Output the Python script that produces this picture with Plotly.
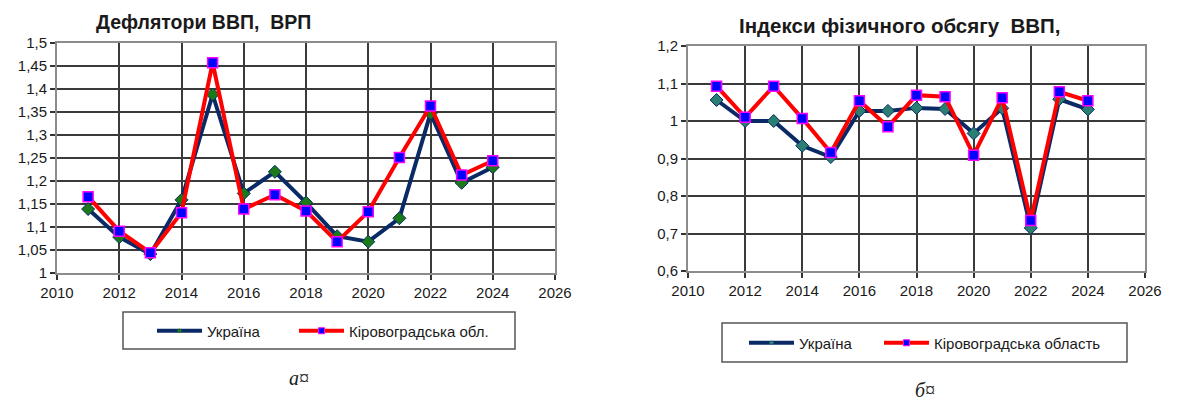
import plotly.graph_objects as go

years = [2011, 2012, 2013, 2014, 2015, 2016, 2017, 2018, 2019, 2020, 2021, 2022, 2023, 2024]

defl_ukraine = [1.139, 1.078, 1.041, 1.159, 1.388, 1.173, 1.220, 1.153, 1.080, 1.068, 1.119, 1.347, 1.196, 1.230]
defl_kirov = [1.166, 1.091, 1.044, 1.131, 1.457, 1.139, 1.170, 1.135, 1.068, 1.133, 1.251, 1.363, 1.213, 1.244]

phys_ukraine = [1.056, 1.000, 1.000, 0.934, 0.904, 1.027, 1.027, 1.035, 1.032, 0.967, 1.034, 0.715, 1.058, 1.031]
phys_kirov = [1.093, 1.010, 1.093, 1.007, 0.916, 1.054, 0.985, 1.069, 1.065, 0.909, 1.062, 0.735, 1.078, 1.054]

x_ticks = [2010, 2012, 2014, 2016, 2018, 2020, 2022, 2024, 2026]
x_ticktext = ["2010", "2012", "2014", "2016", "2018", "2020", "2022", "2024", "2026"]
y1_ticks = [1.0, 1.05, 1.1, 1.15, 1.2, 1.25, 1.3, 1.35, 1.4, 1.45, 1.5]
y1_ticktext = ["1", "1,05", "1,1", "1,15", "1,2", "1,25", "1,3", "1,35", "1,4", "1,45", "1,5"]
y2_ticks = [0.6, 0.7, 0.8, 0.9, 1.0, 1.1, 1.2]
y2_ticktext = ["0,6", "0,7", "0,8", "0,9", "1", "1,1", "1,2"]

title_left = "Дефлятори ВВП,  ВРП"
title_right = "Індекси фізичного обсягу  ВВП,"
name_ukr = "Україна"
name_kir_left = "Кіровоградська обл."
name_kir_right = "Кіровоградська область"

NAVY = "#0a2a66"
RED = "#ff0000"
KIR_FILL = "#0000ff"
KIR_EDGE = "#ff00ff"

# page body has an 8px default margin; figure is sized/placed to compensate
OFF = 8
W, H = 1182 - OFF, 403 - OFF


def px(x):
    return (x - OFF) / W


def py(y):
    return 1 - (y - OFF) / H


fig = go.Figure()


def add_pair(xa, ya, u, k, kname, leg_u, leg_k, ukr_marker):
    fig.add_trace(go.Scatter(
        x=years, y=u, name=name_ukr, xaxis=xa, yaxis=ya, showlegend=False,
        mode="lines+markers",
        line=dict(color=NAVY, width=4),
        marker=dict(symbol="diamond", size=10, color=ukr_marker, line=dict(color=NAVY, width=1)),
    ))
    fig.add_trace(go.Scatter(
        x=years, y=k, name=kname, xaxis=xa, yaxis=ya, showlegend=False,
        mode="lines+markers",
        line=dict(color=RED, width=4),
        marker=dict(symbol="square", size=10, color=KIR_FILL, line=dict(color=KIR_EDGE, width=1.5)),
    ))
    # legend entries with the small markers shown in the reference legend
    fig.add_trace(go.Scatter(
        x=[None], y=[None], name=name_ukr, xaxis=xa, yaxis=ya, legend=leg_u,
        mode="lines+markers", line=dict(color=NAVY, width=4),
        marker=dict(symbol="diamond", size=4, color=ukr_marker, line=dict(width=0)),
    ))
    fig.add_trace(go.Scatter(
        x=[None], y=[None], name=kname, xaxis=xa, yaxis=ya, legend=leg_k,
        mode="lines+markers", line=dict(color=RED, width=4),
        marker=dict(symbol="square", size=6, color=KIR_FILL, line=dict(color=KIR_EDGE, width=1)),
    ))


add_pair("x", "y", defl_ukraine, defl_kirov, name_kir_left, "legend", "legend2", "#1a7a1a")
add_pair("x2", "y2", phys_ukraine, phys_kirov, name_kir_right, "legend3", "legend4", "#2a7f72")

font_family = "Liberation Sans, Arial, sans-serif"
axis_common = dict(
    showgrid=True, gridcolor="#3a3a3a", gridwidth=1.5,
    showline=True, linecolor="#8c8c8c", linewidth=2, mirror=True,
    ticks="outside", ticklen=5, tickcolor="#333333", tickwidth=1.5,
    tickfont=dict(family=font_family, size=15, color="#1a1a1a"),
    zeroline=False, automargin=False,
)

legend_font = dict(family=font_family, size=15, color="#1a1a1a")


def leg(x, y):
    return dict(orientation="h", x=px(x), y=py(y), xanchor="left", yanchor="middle",
                font=legend_font, bgcolor="rgba(0,0,0,0)", itemwidth=45)


fig.update_layout(
    width=W, height=H,
    margin=dict(l=0, r=0, t=0, b=0, autoexpand=False),
    paper_bgcolor="white", plot_bgcolor="white",
    font=dict(family=font_family, color="#1a1a1a"),
    xaxis=dict(domain=[px(57), px(555)], anchor="y", range=[2010, 2026],
               tickvals=x_ticks, ticktext=x_ticktext, **axis_common),
    yaxis=dict(domain=[py(273), py(43)], anchor="x", range=[1.0, 1.5],
               tickvals=y1_ticks, ticktext=y1_ticktext, **axis_common),
    xaxis2=dict(domain=[px(688), px(1145)], anchor="y2", range=[2010, 2026],
                tickvals=x_ticks, ticktext=x_ticktext, **axis_common),
    yaxis2=dict(domain=[py(271), py(46)], anchor="x2", range=[0.6, 1.2],
                tickvals=y2_ticks, ticktext=y2_ticktext, **axis_common),
    legend=leg(152, 331),
    legend2=leg(294, 331),
    legend3=leg(744, 343),
    legend4=leg(879, 343),
    shapes=[
        dict(type="rect", xref="paper", yref="paper",
             x0=px(123), x1=px(515), y0=py(349), y1=py(312),
             line=dict(color="#555555", width=1.5), fillcolor="rgba(0,0,0,0)"),
        dict(type="rect", xref="paper", yref="paper",
             x0=px(722), x1=px(1127), y0=py(362), y1=py(323),
             line=dict(color="#555555", width=1.5), fillcolor="rgba(0,0,0,0)"),
    ],
    annotations=[
        dict(text="<b>" + title_left + "</b>", xref="paper", yref="paper",
             x=px(203), y=py(22), xanchor="center", yanchor="middle", showarrow=False,
             font=dict(family=font_family, size=19.5, color="#1a1a1a")),
        dict(text="<b>" + title_right + "</b>", xref="paper", yref="paper",
             x=px(900), y=py(25), xanchor="center", yanchor="middle", showarrow=False,
             font=dict(family=font_family, size=20.5, color="#1a1a1a")),
        dict(text="<i>а¤</i>", xref="paper", yref="paper",
             x=px(299), y=py(378), xanchor="center", yanchor="middle", showarrow=False,
             font=dict(family="Liberation Serif, Times New Roman, serif", size=20, color="#1a1a1a")),
        dict(text="<i>б¤</i>", xref="paper", yref="paper",
             x=px(925), y=py(390), xanchor="center", yanchor="middle", showarrow=False,
             font=dict(family="Liberation Serif, Times New Roman, serif", size=20, color="#1a1a1a")),
    ],
)

fig.write_html("out.html")
